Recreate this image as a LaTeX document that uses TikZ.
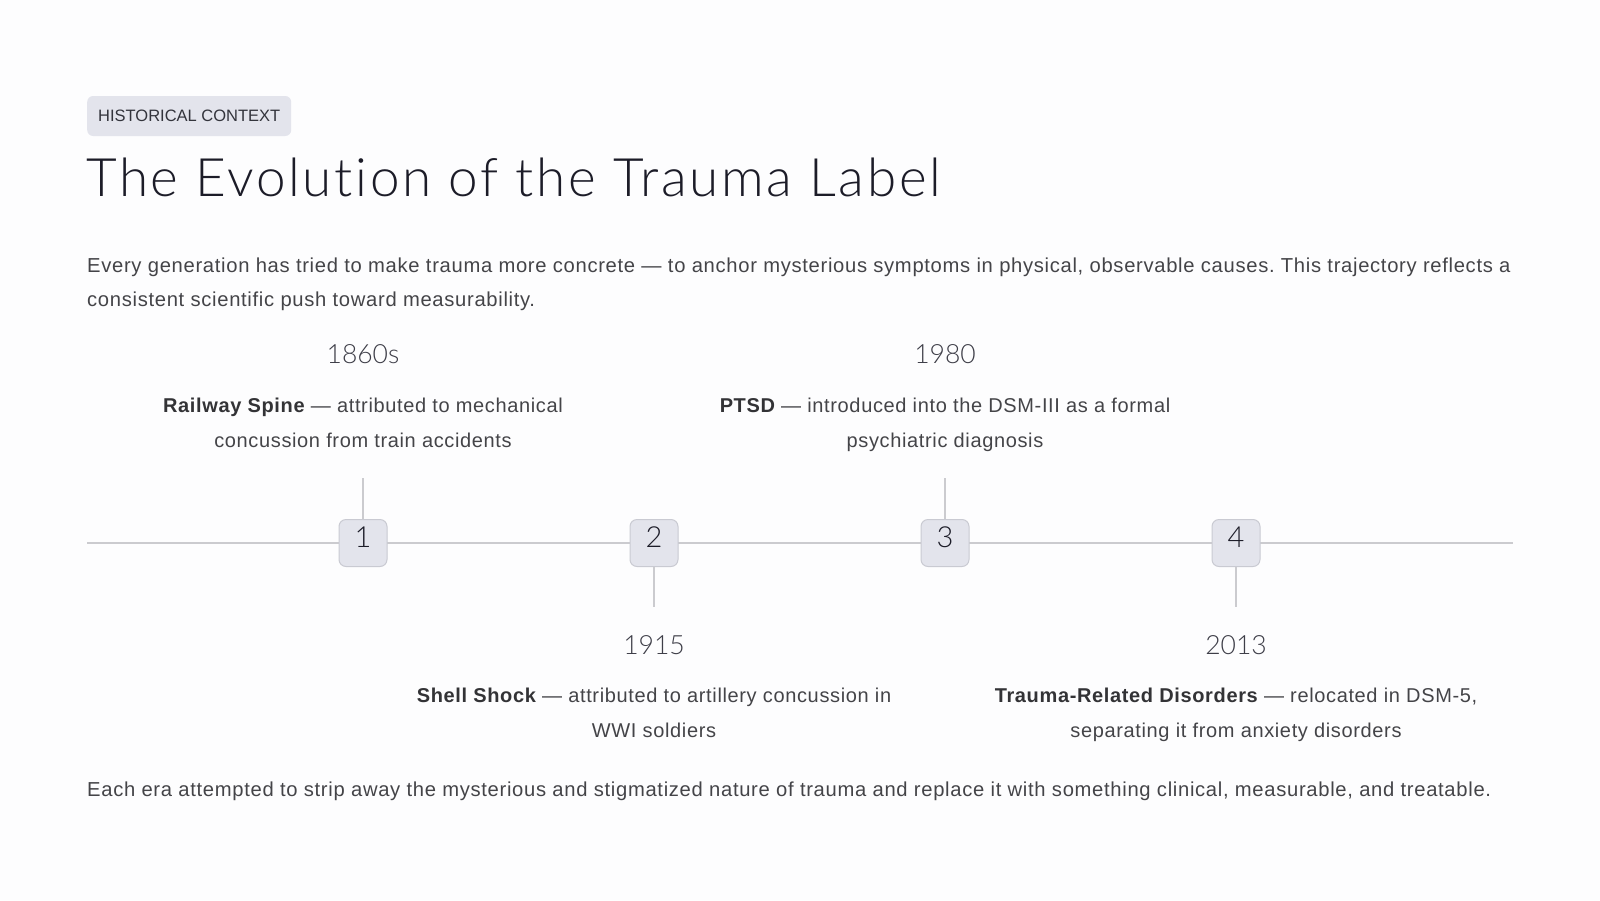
\documentclass[tikz,border=0pt]{standalone}
\usepackage{fontspec}
\setmainfont{Liberation Sans}[LetterSpace=3.2]
\newfontfamily\introfont{Liberation Sans}[LetterSpace=3.4]
\newfontfamily\tagfont{Liberation Sans}
\newfontfamily\titlefont{Lato Light}[LetterSpace=5.1,Ligatures=NoCommon]
\newfontfamily\yearfont{Lato Light}
\frenchspacing
\definecolor{bgc}{HTML}{FDFDFE}
\definecolor{tagfill}{HTML}{E3E4EC}
\definecolor{tagtext}{HTML}{33343C}
\definecolor{titlec}{HTML}{1C1C28}
\definecolor{bodyc}{HTML}{444448}
\definecolor{boldc}{HTML}{333336}
\definecolor{linec}{HTML}{CBCBCF}
\definecolor{boxfill}{HTML}{E3E4EC}
\definecolor{boxdraw}{HTML}{C9CAD2}
\tikzset{
  body/.style={inner sep=0pt, text=bodyc, font=\introfont\fontsize{20.2}{24}\selectfont},
  yearlbl/.style={inner sep=0pt, anchor=base, text=titlec!85, font=\yearfont\fontsize{26.5}{30}\selectfont},
  desc/.style={inner sep=0pt, anchor=base, text=bodyc, font=\fontsize{20}{24}\selectfont},
  numbox/.style={draw=boxdraw, fill=boxfill, line width=1pt, rounded corners=7pt, minimum width=48pt, minimum height=47pt, inner sep=0pt},
  numtxt/.style={inner sep=0pt, text=titlec, font=\yearfont\fontsize{29}{30}\selectfont},
  axisline/.style={draw=linec, line width=2pt},
  stem/.style={draw=linec, line width=2pt}
}
\begin{document}
\begin{tikzpicture}[x=1pt,y=-1pt]
\useasboundingbox[fill=bgc] (0,0) rectangle (1600,900);
% tag
\node[fill=tagfill, rounded corners=6pt, minimum height=40pt, minimum width=204pt, inner sep=0pt, anchor=west, text=tagtext, font=\tagfont\fontsize{16.5}{18}\selectfont] (tag) at (87,116) {HISTORICAL CONTEXT};
% title
\node[inner sep=0pt, anchor=base west, text=titlec, font=\titlefont\fontsize{53}{60}\selectfont] (title) at (86,196) {The Evolution of the Trauma Label};
% intro
\node[body, anchor=base west] (intro1) at (87,272) {Every generation has tried to make trauma more concrete — to anchor mysterious symptoms in physical, observable causes. This trajectory reflects a};
\node[body, anchor=base west] (intro2) at (87,306) {consistent scientific push toward measurability.};
% axis
\coordinate (axL) at (87,543);
\coordinate (axR) at (1513,543);
\draw[axisline] (axL) -- (axR);
% stems
\coordinate (s1) at (363,478);
\coordinate (s2) at (654,607);
\coordinate (s3) at (945,478);
\coordinate (s4) at (1236,607);
% boxes
\node[numbox] (b1) at (363,543) {};
\node[numbox] (b2) at (654,543) {};
\node[numbox] (b3) at (945,543) {};
\node[numbox] (b4) at (1236,543) {};
\draw[stem] (s1) -- (b1.north);
\draw[stem] (s3) -- (b3.north);
\draw[stem] (b2.south) -- (s2);
\draw[stem] (b4.south) -- (s4);
\node[numtxt] (n1) at (363,537) {1};
\node[numtxt] (n2) at (654,537) {2};
\node[numtxt] (n3) at (945,537) {3};
\node[numtxt] (n4) at (1236,537) {4};
% top entries
\node[yearlbl] (y1) at (363,363) {1860s};
\node[desc] (d1a) at (363,412) {\textbf{\color{boldc}Railway Spine} — attributed to mechanical};
\node[desc] (d1b) at (363,447) {concussion from train accidents};
\node[yearlbl] (y3) at (945,363) {1980};
\node[desc] (d3a) at (945,412) {\textbf{\color{boldc}PTSD} — introduced into the DSM-III as a formal};
\node[desc] (d3b) at (945,447) {psychiatric diagnosis};
% bottom entries
\node[yearlbl] (y2) at (654,654) {1915};
\node[desc] (d2a) at (654,702) {\textbf{\color{boldc}Shell Shock} — attributed to artillery concussion in};
\node[desc] (d2b) at (654,737) {WWI soldiers};
\node[yearlbl] (y4) at (1236,654) {2013};
\node[desc] (d4a) at (1236,702) {\textbf{\color{boldc}Trauma-Related Disorders} — relocated in DSM-5,};
\node[desc] (d4b) at (1236,737) {separating it from anxiety disorders};
% closing
\node[body, anchor=base west] (outro) at (87,796) {Each era attempted to strip away the mysterious and stigmatized nature of trauma and replace it with something clinical, measurable, and treatable.};
\end{tikzpicture}
\end{document}
